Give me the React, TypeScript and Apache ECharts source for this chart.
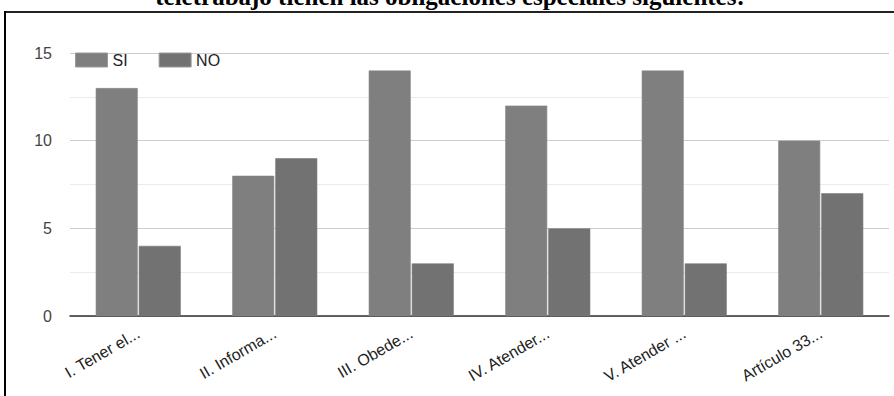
import React, { useEffect, useRef } from "react";
import * as echarts from "echarts";

const titleText = "teletrabajo tienen las obligaciones especiales siguientes:";
const categories = [
  "I. Tener el...",
  "II. Informa...",
  "III. Obede...",
  "IV. Atender...",
  "V. Atender ...",
  "Artículo 33...",
];
const siValues = [13, 8, 14, 12, 14, 10];
const noValues = [4, 9, 3, 5, 3, 7];
const yTicks = { min: 0, max: 15, interval: 5 };

const SANS = "'Liberation Sans', Arial, sans-serif";
const SERIF = "'Liberation Serif', 'Times New Roman', serif";

export default function App() {
  const ref = useRef<HTMLDivElement>(null);

  useEffect(() => {
    if (!ref.current) return;
    const chart = echarts.init(ref.current, undefined, { renderer: "svg" });
    chart.setOption({
      animation: false,
      backgroundColor: "#ffffff",
      graphic: [
        {
          type: "text",
          x: 450,
          y: -4,
          style: {
            text: titleText,
            font: `bold 25px ${SERIF}`,
            fill: "#000",
            align: "center",
            verticalAlign: "middle",
          },
        },
        {
          type: "line",
          shape: { x1: 4, y1: 12, x2: 894, y2: 12 },
          style: { stroke: "#222", lineWidth: 2 },
        },
        {
          type: "line",
          shape: { x1: 5, y1: 11, x2: 5, y2: 396 },
          style: { stroke: "#000", lineWidth: 2 },
        },
      ],
      legend: {
        left: 70,
        top: 47,
        itemWidth: 32,
        itemHeight: 14,
        itemGap: 31,
        icon: "rect",
        itemStyle: { borderColor: "#9a9a9a", borderWidth: 1 },
        textStyle: { fontFamily: SANS, fontSize: 16, color: "#222", padding: [0, 0, 0, 0] },
        data: ["SI", "NO"],
      },
      grid: { left: 70, right: 5, top: 53, bottom: 80, containLabel: false },
      xAxis: {
        type: "category",
        data: categories,
        axisLine: { lineStyle: { color: "#333", width: 1.5 } },
        axisTick: { show: false },
        axisLabel: {
          rotate: 30,
          margin: 16,
          fontFamily: SANS,
          fontSize: 16,
          color: "#222",
          interval: 0,
        },
      },
      yAxis: {
        type: "value",
        min: yTicks.min,
        max: yTicks.max,
        interval: yTicks.interval,
        axisLine: { show: false },
        axisTick: { show: false },
        axisLabel: { fontFamily: SANS, fontSize: 16, color: "#444", margin: 18 },
        splitLine: { lineStyle: { color: "#cccccc", width: 1 } },
        minorTick: { show: false, splitNumber: 2 },
        minorSplitLine: { show: true, lineStyle: { color: "#ebebeb", width: 1 } },
      },
      series: [
        {
          name: "SI",
          type: "bar",
          data: siValues,
          barWidth: 42,
          barGap: "2.5%",
          itemStyle: { color: "#7f7f7f", borderColor: "#8a8a8a", borderWidth: 0.6 },
        },
        {
          name: "NO",
          type: "bar",
          data: noValues,
          barWidth: 42,
          itemStyle: { color: "#727272", borderColor: "#7c7c7c", borderWidth: 0.6 },
        },
      ],
    });
    return () => chart.dispose();
  }, []);

  return (
    <div
      ref={ref}
      style={{ position: "fixed", left: 0, top: 0, width: 894, height: 396 }}
    />
  );
}
